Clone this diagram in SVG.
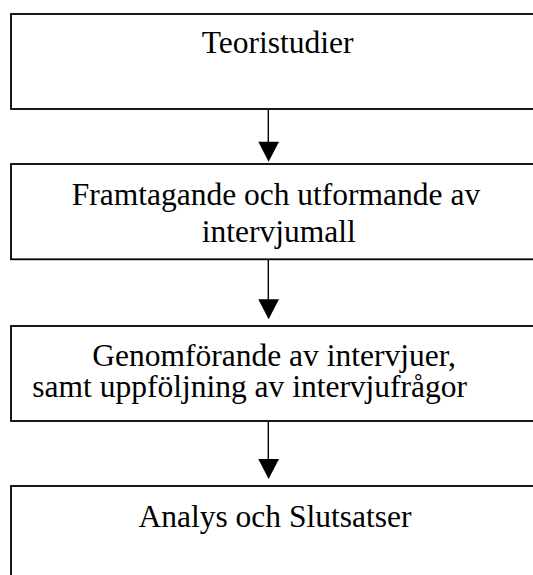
<svg xmlns="http://www.w3.org/2000/svg" width="533" height="575" viewBox="0 0 533 575">
  <style>
    .box { fill: #fff; stroke: #000; stroke-width: 1.8; }
    .lbl { font-family: "Liberation Serif", "Times New Roman", serif; font-size: 31.5px; fill: #000; }
    .edge { stroke: #000; stroke-width: 1.4; fill: none; }
    .head { fill: #000; stroke: none; }
  </style>
  <rect width="533" height="575" fill="#fff"/>

  <g id="connectors">
    <line class="edge" x1="268.3" y1="109" x2="268.3" y2="145"/>
    <polygon class="head" points="258.3,141.7 279,141.7 268.6,161.7"/>
    <line class="edge" x1="268.3" y1="259.3" x2="268.3" y2="302"/>
    <polygon class="head" points="258.3,299.3 279,299.3 268.6,319.3"/>
    <line class="edge" x1="268.3" y1="421" x2="268.3" y2="462"/>
    <polygon class="head" points="258.3,459 279,459 268.6,479"/>
  </g>

  <g id="teoristudier">
    <rect class="box" x="11" y="14" width="534" height="95"/>
    <text class="lbl" x="201.7" y="53.3">Teoristudier</text>
  </g>

  <g id="intervjumall">
    <rect class="box" x="11" y="164" width="534" height="95.3"/>
    <text class="lbl" x="71.7" y="205">Framtagande och utformande av</text>
    <text class="lbl" x="201.7" y="241.5">intervjumall</text>
  </g>

  <g id="intervjuer">
    <rect class="box" x="11" y="326" width="534" height="95"/>
    <text class="lbl" x="92.3" y="365.5">Genomförande av intervjuer,</text>
    <text class="lbl" x="32.3" y="397">samt uppföljning av intervjufrågor</text>
  </g>

  <g id="analys">
    <rect class="box" x="11" y="486" width="534" height="120"/>
    <text class="lbl" x="138.5" y="526.7">Analys och Slutsatser</text>
  </g>
</svg>
